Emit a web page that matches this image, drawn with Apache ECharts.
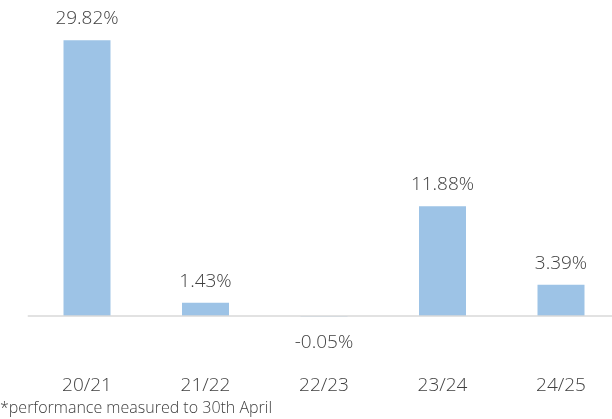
<!DOCTYPE html>
<html>
<head>
<meta charset="utf-8">
<script src="https://cdn.jsdelivr.net/npm/echarts@6/dist/echarts.min.js"></script>
<style>
html,body{margin:0;padding:0;background:#fff;}
#c{width:612px;height:419px;}
</style>
</head>
<body>
<div id="c"></div>
<script>
const categories = ['20/21', '21/22', '22/23', '23/24', '24/25'];
const returns = [29.82, 1.43, -0.05, 11.88, 3.39];
const footnote = '*performance measured to 30th April';

const chart = echarts.init(document.getElementById('c'), null, {renderer: 'canvas'});
const textColor = '#404040';
const font = '"Open Sans", Lato, sans-serif';

chart.setOption({
  animation: false,
  backgroundColor: '#ffffff',
  grid: {left: 27.75, width: 592.5, top: 20, height: 351.6, outerBoundsMode: 'none', containLabel: false},
  xAxis: {
    type: 'category',
    data: categories,
    axisLine: {show: false},
    axisTick: {show: false},
    axisLabel: {color: textColor, fontSize: 19, fontWeight: 300, fontFamily: font, margin: 4}
  },
  yAxis: {
    type: 'value',
    min: -6,
    max: 32,
    show: false,
    splitLine: {show: false}
  },
  graphic: [{
    type: 'text',
    left: 0,
    top: 400,
    style: {text: footnote, fill: textColor, fontSize: 16, fontWeight: 300, fontFamily: font}
  }],
  series: [{
    type: 'bar',
    barWidth: 47,
    data: returns.map(v => ({
      value: v,
      label: {position: v < 0 ? 'bottom' : 'top', distance: v < 0 ? 17 : 12}
    })),
    itemStyle: {color: '#9DC3E6'},
    label: {
      show: true,
      color: textColor,
      fontSize: 19,
      fontWeight: 300,
      fontFamily: font,
      formatter: p => p.value.toFixed(2) + '%'
    },
    markLine: {
      silent: true,
      symbol: ['none', 'none'],
      label: {show: false},
      lineStyle: {color: '#D9D9D9', type: 'solid', width: 1.5},
      data: [{yAxis: 0}]
    }
  }]
});
</script>
</body>
</html>
